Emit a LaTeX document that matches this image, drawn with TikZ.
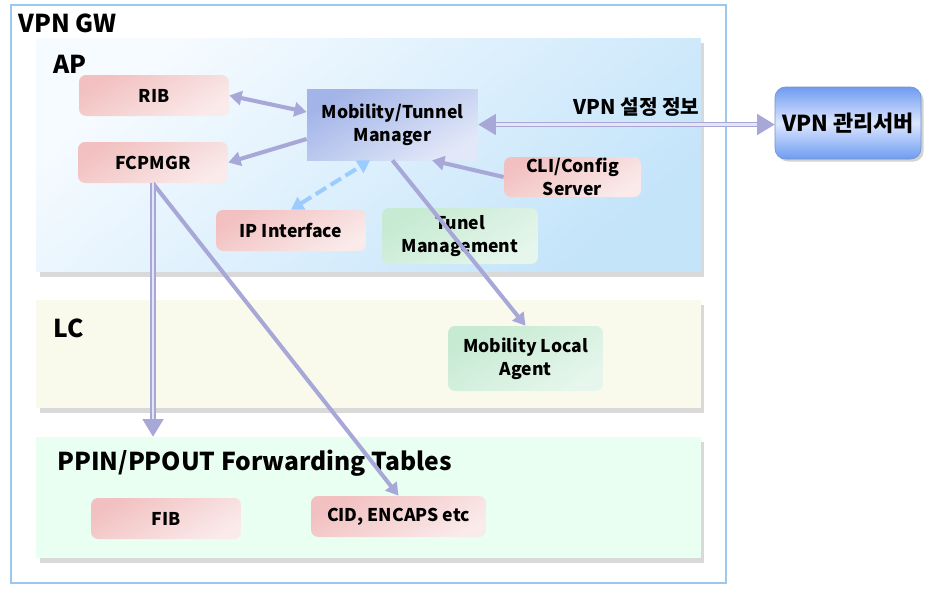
\documentclass[tikz,border=0pt]{standalone}
\usepackage{fontspec}
\setmainfont{Noto Sans CJK KR}
\usetikzlibrary{positioning, arrows.meta, shadows}
\definecolor{gwline}{HTML}{9CC8F0}
\definecolor{apA}{HTML}{F6FBFF}
\definecolor{apB}{HTML}{C4E4FA}
\definecolor{lcfill}{HTML}{FAFAEC}
\definecolor{ppfill}{HTML}{E8FFF2}
\definecolor{pinkA}{HTML}{F2C0C0}
\definecolor{pinkB}{HTML}{FAEAEA}
\definecolor{greenA}{HTML}{C6EAD2}
\definecolor{greenB}{HTML}{E6F6EC}
\definecolor{mobA}{HTML}{A2B4E8}
\definecolor{mobB}{HTML}{E2E8F8}
\definecolor{srvA}{HTML}{6F9CF0}
\definecolor{srvB}{HTML}{DCE6FF}
\definecolor{linkc}{HTML}{A8A8D8}
\definecolor{dashc}{HTML}{9CCCFF}
\tikzset{
box/.style={rounded corners=4pt, align=center, inner sep=0pt, font=\bfseries\fontsize{10}{13}\selectfont}, % common look of the inner boxes
pinkbox/.style={box, top color=pinkA, bottom color=pinkB, shading angle=30, minimum height=0.82cm}, % tables and managers
greenbox/.style={box, top color=greenA, bottom color=greenB, shading angle=30}, % agents
panel/.style={minimum width=13.3cm, drop shadow={shadow xshift=2pt, shadow yshift=-3pt, opacity=0.3}}, % AP, LC and tables layers
paneltitle/.style={inner sep=0pt, anchor=base west, font=\bfseries\fontsize{14}{16}\selectfont}, % layer names
linkhead/.tip={Triangle[width=8pt,length=7pt]}, % arrow head of the single lines
bighead/.tip={Triangle[width=12pt,length=10pt]}, % arrow head of the double lines
link/.style={draw=linkc, line width=2.3pt, -linkhead}, % one way arrow
dbl/.style={draw=linkc, double=linkc!30, double distance=1.6pt, line width=0.8pt}, % double line
}

\begin{document}
\begin{tikzpicture}[x=0.02cm, y=-0.02cm]
  \useasboundingbox (0,0) rectangle (930,593);
  % gateway and its layers
  \node[draw=gwline, line width=1.5pt, minimum width=14.3cm, minimum height=11.56cm] (gw) at (368.5,294) {};
  \node[paneltitle] (gwtitle) at (18,32) {VPN GW};
  \node[panel, top color=apA, bottom color=apB, shading angle=40, minimum height=4.68cm] (ap) at (368.5,155) {};
  \node[panel, fill=lcfill, minimum height=2.16cm] (lc) at (368.5,354) {};
  \node[panel, fill=ppfill, minimum height=2.42cm] (pp) at (368.5,497.5) {};
  \node[paneltitle] (aptitle) at (53,73) {AP};
  \node[paneltitle] (lctitle) at (53,337) {LC};
  \node[paneltitle] (pptitle) at (57,470) {PPIN/PPOUT Forwarding Tables};
  % AP
  \node[pinkbox, minimum width=3cm] (rib) at (154,95.5) {RIB};
  \node[pinkbox, minimum width=3cm] (fcp) at (153,162.5) {FCPMGR};
  \node[box, rounded corners=0pt, top color=mobA, bottom color=mobB, shading angle=30,
        minimum width=3.42cm, minimum height=1.42cm] (mob) at (392.5,124.5) {Mobility/Tunnel\\Manager};
  \node[pinkbox, minimum width=2.74cm, minimum height=0.8cm] (cli) at (572.5,177) {CLI/Config\\Server};
  \node[pinkbox, minimum width=3cm] (ip) at (291,230.5) {IP Interface};
  \node[greenbox, minimum width=3.12cm, minimum height=1.12cm] (tun) at (460,236) {Tunel\\Management};
  % LC
  \node[greenbox, minimum width=3.1cm, minimum height=1.3cm] (mla) at (525.5,358.5) {Mobility Local\\Agent};
  % tables
  \node[pinkbox, minimum width=3cm] (fib) at (166,518.5) {FIB};
  \node[pinkbox, minimum width=3.5cm] (cid) at (398.5,516.5) {CID, ENCAPS etc};
  % management server
  \node[box, rounded corners=6pt, draw=srvA!70!gray, top color=srvA, bottom color=srvA, middle color=srvB,
        minimum width=2.92cm, minimum height=1.44cm, font=\bfseries\fontsize{12.5}{15}\selectfont,
        drop shadow={shadow xshift=1.5pt, shadow yshift=-1.5pt, opacity=0.35}] (srv) at (848,123) {VPN 관리서버};

  % connectors
  \draw[link, linkhead-linkhead] (rib.east) -- ([yshift=0.25cm]mob.west);
  \draw[link] ([yshift=-0.29cm]mob.west) -- (fcp.east);
  \draw[link] (cli.west) -- ([xshift=0.79cm]mob.south);
  \draw[draw=dashc, line width=2.3pt, dash pattern=on 7pt off 3pt, linkhead-linkhead] (ip.north) -- ([xshift=-0.45cm]mob.south);
  \draw[link] (mob.south) -- (mla.north);
  \draw[link] (fcp.south) -- (cid.north);
  \draw[dbl, -bighead] (fcp.south) -- (fcp.south |- pp.north);
  \draw[dbl, bighead-bighead] (mob.east) -- (mob.east -| srv.west)
    node[pos=0.534, above=1pt, font=\bfseries\fontsize{11.5}{14}\selectfont] (info) {VPN 설정 정보};
\end{tikzpicture}
\end{document}
